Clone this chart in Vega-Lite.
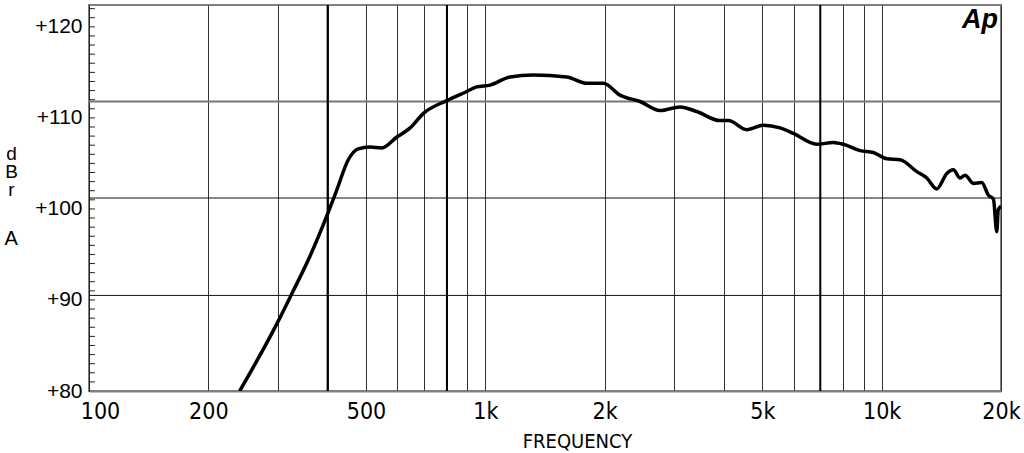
{
  "$schema": "https://vega.github.io/schema/vega-lite/v6.json",
  "width": 912,
  "height": 386,
  "autosize": {"type": "none"},
  "padding": {"left": 89, "top": 5, "right": 23, "bottom": 62},
  "background": "white",
  "config": {
    "view": {"stroke": "#808080", "strokeWidth": 2},
    "font": "Liberation Sans"
  },
  "datasets": {
    "curve": [
      {"freq": 240, "dbr": 80.0},
      {"freq": 298, "dbr": 87.4},
      {"freq": 325, "dbr": 90.7},
      {"freq": 361, "dbr": 94.8},
      {"freq": 402, "dbr": 99.7},
      {"freq": 422, "dbr": 102.1},
      {"freq": 451, "dbr": 105.4},
      {"freq": 478, "dbr": 106.6},
      {"freq": 512, "dbr": 106.8},
      {"freq": 548, "dbr": 106.7},
      {"freq": 598, "dbr": 107.9},
      {"freq": 646, "dbr": 108.9},
      {"freq": 698, "dbr": 110.5},
      {"freq": 799, "dbr": 111.9},
      {"freq": 898, "dbr": 112.9},
      {"freq": 951, "dbr": 113.4},
      {"freq": 1028, "dbr": 113.6},
      {"freq": 1154, "dbr": 114.5},
      {"freq": 1321, "dbr": 114.7},
      {"freq": 1605, "dbr": 114.5},
      {"freq": 1803, "dbr": 113.8},
      {"freq": 1985, "dbr": 113.8},
      {"freq": 2187, "dbr": 112.5},
      {"freq": 2457, "dbr": 111.8},
      {"freq": 2759, "dbr": 110.8},
      {"freq": 3099, "dbr": 111.2},
      {"freq": 3415, "dbr": 110.7},
      {"freq": 3910, "dbr": 109.7},
      {"freq": 4105, "dbr": 109.7},
      {"freq": 4566, "dbr": 108.7},
      {"freq": 5029, "dbr": 109.2},
      {"freq": 5541, "dbr": 108.9},
      {"freq": 5987, "dbr": 108.3},
      {"freq": 6859, "dbr": 107.1},
      {"freq": 7552, "dbr": 107.3},
      {"freq": 8004, "dbr": 107.1},
      {"freq": 8821, "dbr": 106.4},
      {"freq": 9528, "dbr": 106.2},
      {"freq": 10301, "dbr": 105.5},
      {"freq": 11127, "dbr": 105.4},
      {"freq": 12264, "dbr": 104.1},
      {"freq": 12997, "dbr": 103.4},
      {"freq": 13772, "dbr": 102.2},
      {"freq": 14600, "dbr": 103.9},
      {"freq": 15166, "dbr": 104.3},
      {"freq": 15768, "dbr": 103.4},
      {"freq": 16233, "dbr": 103.7},
      {"freq": 17035, "dbr": 102.8},
      {"freq": 17885, "dbr": 102.9},
      {"freq": 18587, "dbr": 101.5},
      {"freq": 19134, "dbr": 101.1},
      {"freq": 19517, "dbr": 97.5},
      {"freq": 19680, "dbr": 99.9},
      {"freq": 20000, "dbr": 100.3}
    ],
    "hgrid": [
      {"dbr": 111.8, "marker": "yes"},
      {"dbr": 101.2, "marker": "no"},
      {"dbr": 90.5, "marker": "no"}
    ],
    "vmarkers": [
      {"freq": 400},
      {"freq": 800},
      {"freq": 7000}
    ],
    "yticks": [
      {"dbr": 81}, {"dbr": 82}, {"dbr": 83}, {"dbr": 84}, {"dbr": 85}, {"dbr": 86}, {"dbr": 87}, {"dbr": 88}, {"dbr": 89}, {"dbr": 90},
      {"dbr": 91}, {"dbr": 92}, {"dbr": 93}, {"dbr": 94}, {"dbr": 95}, {"dbr": 96}, {"dbr": 97}, {"dbr": 98}, {"dbr": 99}, {"dbr": 100},
      {"dbr": 101}, {"dbr": 102}, {"dbr": 103}, {"dbr": 104}, {"dbr": 105}, {"dbr": 106}, {"dbr": 107}, {"dbr": 108}, {"dbr": 109}, {"dbr": 110},
      {"dbr": 111}, {"dbr": 112}, {"dbr": 113}, {"dbr": 114}, {"dbr": 115}, {"dbr": 116}, {"dbr": 117}, {"dbr": 118}, {"dbr": 119}, {"dbr": 120},
      {"dbr": 121}, {"dbr": 122}
    ]
  },
  "layer": [
    {
      "data": {"name": "hgrid"},
      "mark": {"type": "rule"},
      "encoding": {
        "y": {
          "field": "dbr",
          "type": "quantitative",
          "scale": {"domain": [80, 122.4], "nice": false, "zero": false},
          "title": ["d", "B", "r"],
          "axis": {
            "values": [80, 90, 100, 110, 120],
            "labelExpr": "'+' + datum.value",
            "labelOverlap": false,
            "grid": false,
            "ticks": false,
            "domainColor": "#222",
            "labelPadding": 7,
            "labelFont": "Liberation Sans",
            "labelFontSize": 21,
            "labelColor": "black",
            "titleAngle": 0,
            "titleFont": "Liberation Sans",
            "titleFontSize": 19,
            "titleFontWeight": "normal",
            "titleColor": "black",
            "titleLineHeight": 18,
            "titleAlign": "center",
            "titleBaseline": "alphabetic",
            "titleX": -78,
            "titleY": 154
          }
        },
        "color": {
          "condition": {"test": "datum.marker == 'yes'", "value": "#777"},
          "value": "#111"
        },
        "strokeWidth": {
          "condition": {"test": "datum.marker == 'yes'", "value": 2},
          "value": 1
        }
      }
    },
    {
      "data": {"name": "yticks"},
      "mark": {"type": "rule", "color": "#222", "strokeWidth": 1},
      "encoding": {
        "x": {"datum": 100},
        "x2": {"datum": 103.5},
        "y": {"field": "dbr", "type": "quantitative"}
      }
    },
    {
      "data": {"name": "vmarkers"},
      "mark": {"type": "rule", "color": "black", "strokeWidth": 2},
      "encoding": {
        "x": {
          "field": "freq",
          "type": "quantitative",
          "scale": {"type": "log", "domain": [100, 20000], "nice": false},
          "title": "FREQUENCY",
          "axis": {
            "values": [100, 200, 300, 400, 500, 600, 700, 800, 900, 1000, 2000, 3000, 4000, 5000, 6000, 7000, 8000, 9000, 10000, 20000],
            "tickCount": 40,
            "labelExpr": "indexof([100, 200, 500], datum.value) >= 0 ? '' + datum.value : (indexof([1000, 2000, 5000, 10000, 20000], datum.value) >= 0 ? (datum.value / 1000) + 'k' : '')",
            "labelOverlap": false,
            "labelFlush": false,
            "grid": true,
            "gridColor": "#333",
            "gridWidth": 1,
            "ticks": false,
            "domainColor": "#808080",
            "domainWidth": 2,
            "labelFont": "'Liberation Sans Narrow', 'DejaVu Sans Condensed', 'Liberation Sans', sans-serif",
            "labelFontSize": 23,
            "labelColor": "black",
            "labelPadding": 9,
            "labelOffset": {"condition": {"test": "datum.value == 100", "value": 11}, "value": 0},
            "titleFont": "'Liberation Sans Narrow', 'DejaVu Sans Condensed', 'Liberation Sans', sans-serif",
            "titleFontSize": 20,
            "titleFontWeight": "normal",
            "titleColor": "black",
            "titleAlign": "center",
            "titleBaseline": "alphabetic",
            "titleX": 488,
            "titleY": 56
          }
        }
      }
    },
    {
      "data": {"name": "curve"},
      "mark": {"type": "line", "color": "black", "strokeWidth": 3.5, "interpolate": "monotone", "clip": true},
      "encoding": {
        "x": {"field": "freq", "type": "quantitative"},
        "y": {"field": "dbr", "type": "quantitative"}
      }
    },
    {
      "data": {"values": [{"unit": "A"}]},
      "mark": {"type": "text", "font": "Liberation Sans", "fontSize": 20, "align": "center", "baseline": "alphabetic", "color": "black", "clip": false},
      "encoding": {
        "x": {"datum": 63.6},
        "y": {"datum": 96.0},
        "text": {"field": "unit"}
      }
    },
    {
      "data": {"values": [{"logo": "Ap"}]},
      "mark": {"type": "text", "font": "Liberation Sans", "fontSize": 27, "fontWeight": "bold", "fontStyle": "italic", "align": "center", "baseline": "middle", "color": "black"},
      "encoding": {
        "x": {"datum": 17700},
        "y": {"datum": 120.8},
        "text": {"field": "logo"}
      }
    }
  ]
}
